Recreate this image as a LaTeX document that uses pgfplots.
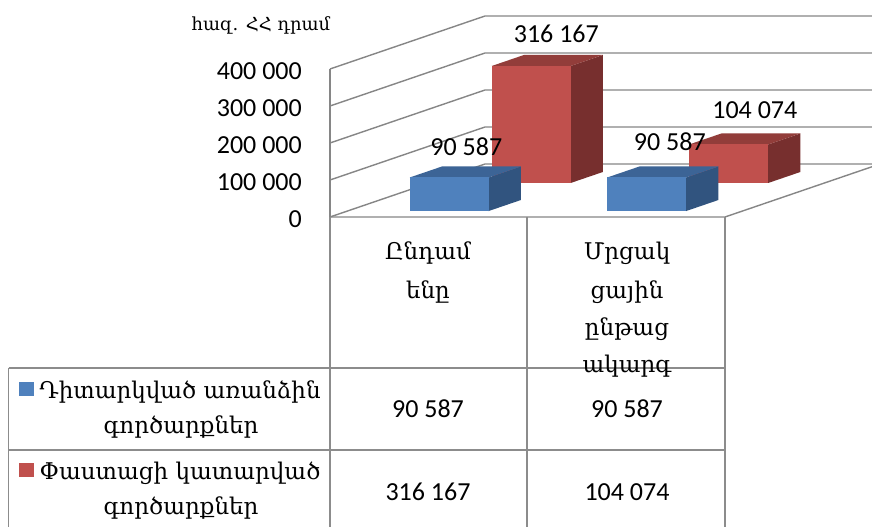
\documentclass[border=0pt]{standalone}
\usepackage{fontspec}
\setmainfont{DejaVu Sans}
\newfontfamily\numfont{Carlito}
\newfontfamily\armfont{DejaVu Serif}
\usepackage{pgfplots}
\pgfplotsset{compat=1.18}
\definecolor{bluefront}{HTML}{4F81BD}
\definecolor{bluetop}{HTML}{3C6496}
\definecolor{blueside}{HTML}{31547F}
\definecolor{redfront}{HTML}{C0504D}
\definecolor{redtop}{HTML}{923D3A}
\definecolor{redside}{HTML}{772F2E}
\definecolor{gridgray}{HTML}{868686}
\definecolor{tabgray}{HTML}{8C8C8C}
% x0 x1 d0 d1 value front top side
\newcommand{\cube}[8]{%
 \addplot3[fill=#8, draw=none] coordinates {(#2,#3,0) (#2,#4,0) (#2,#4,#5) (#2,#3,#5)} -- cycle;
 \addplot3[fill=#7, draw=none] coordinates {(#1,#3,#5) (#2,#3,#5) (#2,#4,#5) (#1,#4,#5)} -- cycle;
 \addplot3[fill=#6, draw=none] coordinates {(#1,#3,0) (#2,#3,0) (#2,#3,#5) (#1,#3,#5)} -- cycle;
}
\tikzset{
  gridline/.style={draw=gridgray, line width=1.4pt},
  lbl/.style={font=\numfont\fontsize{26}{30}\selectfont, inner sep=0pt, text=black},
}
\begin{document}
\begin{tikzpicture}[x=1pt,y=1pt]
\useasboundingbox (0,0) rectangle (872,527);
\fill[white] (0,0) rectangle (872,527);
\begin{axis}[
  at={(330pt,310pt)}, anchor=origin,
  hide axis, clip=false,
  x={(197.5pt,0pt)}, y={(155pt,53pt)}, z={(0pt,0.0003675pt)},
  xmin=0, xmax=1.96, ymin=0, ymax=1, zmin=0, zmax=400000,
]
% walls and floor
\addplot3[gridline] coordinates {(0,0,0) (0,1,0) (1.96,1,0)};
\addplot3[gridline] coordinates {(0,0,100000) (0,1,100000) (1.96,1,100000)};
\addplot3[gridline] coordinates {(0,0,200000) (0,1,200000) (1.96,1,200000)};
\addplot3[gridline] coordinates {(0,0,300000) (0,1,300000) (1.96,1,300000)};
\addplot3[gridline] coordinates {(0,0,400000) (0,1,400000) (1.96,1,400000)};
\addplot3[gridline] coordinates {(0,0,0) (2,0,0) (2,0.948,0)};
\addplot3[gridline] coordinates {(0,0,0) (0,0,400000)};
% bars: series 2 (behind) then series 1
\cube{0.315}{0.715}{0.642}{0.850}{316167}{redfront}{redtop}{redside}
\cube{1.315}{1.715}{0.642}{0.850}{104074}{redfront}{redtop}{redside}
\cube{0.315}{0.715}{0.113}{0.321}{90587}{bluefront}{bluetop}{blueside}
\cube{1.315}{1.715}{0.113}{0.321}{90587}{bluefront}{bluetop}{blueside}
% value labels
\node[lbl] at (axis cs:0.515,0.217,90587) [xshift=1pt, yshift=25pt] {90 587};
\node[lbl] at (axis cs:0.515,0.746,316167) [xshift=9pt, yshift=27pt] {316 167};
\node[lbl] at (axis cs:1.515,0.217,90587) [xshift=7pt, yshift=30pt] {90 587};
\node[lbl] at (axis cs:1.515,0.746,104074) [xshift=10pt, yshift=29pt] {104 074};
% tick labels
\node[lbl, anchor=east] at (axis cs:0,0,0) [xshift=-28pt, yshift=-2pt] {0};
\node[lbl, anchor=east] at (axis cs:0,0,100000) [xshift=-28pt, yshift=-2pt] {100 000};
\node[lbl, anchor=east] at (axis cs:0,0,200000) [xshift=-28pt, yshift=-2pt] {200 000};
\node[lbl, anchor=east] at (axis cs:0,0,300000) [xshift=-28pt, yshift=-2pt] {300 000};
\node[lbl, anchor=east] at (axis cs:0,0,400000) [xshift=-28pt, yshift=-2pt] {400 000};
\end{axis}
% unit title
\node[inner sep=0pt, font=\armfont\fontsize{18}{22}\selectfont] at (261,502) {հազ. ՀՀ դրամ};
% data table grid
\begin{scope}[draw=tabgray, line width=1.6pt]
\draw (330,310) -- (330,0);
\draw (527,310) -- (527,0);
\draw (725,310) -- (725,0);
\draw (8.5,159) -- (725,159);
\draw (8.5,77) -- (725,77);
\draw (8.5,159) -- (8.5,0);
\end{scope}
\begin{scope}[every node/.style={inner sep=0pt, font=\armfont\fontsize{23}{27}\selectfont}]
\node at (428,274) {Ընդամ};
\node at (428,235) {ենը};
\node at (627,274) {Մրցակ};
\node at (627,235) {ցային};
\node at (627,198) {ընթաց};
\node at (627,161) {ակարգ};
\node at (180,135) {Դիտարկված առանձին};
\node at (181,100) {գործարքներ};
\node at (180,54) {Փաստացի կատարված};
\node at (181,19) {գործարքներ};
\end{scope}
\fill[bluefront] (19,131) rectangle (34,145);
\fill[redfront] (19,50) rectangle (34,64);
\begin{scope}[every node/.style={inner sep=0pt, font=\numfont\fontsize{26}{30}\selectfont}]
\node at (428,118) {90 587};
\node at (627,118) {90 587};
\node at (428,35) {316 167};
\node at (627,35) {104 074};
\end{scope}
\end{tikzpicture}
\end{document}
